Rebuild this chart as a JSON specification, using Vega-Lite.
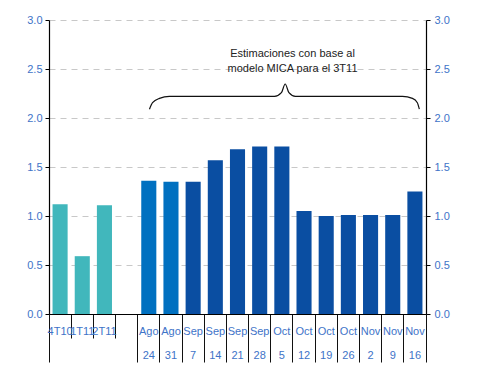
{
  "$schema": "https://vega.github.io/schema/vega-lite/v6.json",
  "width": 377,
  "height": 294,
  "autosize": {"type": "none"},
  "padding": {"left": 49, "top": 20, "right": 56, "bottom": 67},
  "background": "white",
  "config": {"view": {"stroke": null}, "font": "Liberation Sans"},
  "datasets": {
    "bars": [
      {"cat": "4T10", "value": 1.12, "grp": "q"},
      {"cat": "1T11", "value": 0.59, "grp": "q"},
      {"cat": "2T11", "value": 1.11, "grp": "q"},
      {"cat": "Ago|24", "value": 1.36, "grp": "w1"},
      {"cat": "Ago|31", "value": 1.35, "grp": "w1"},
      {"cat": "Sep|7", "value": 1.35, "grp": "w2"},
      {"cat": "Sep|14", "value": 1.57, "grp": "w2"},
      {"cat": "Sep|21", "value": 1.68, "grp": "w2"},
      {"cat": "Sep|28", "value": 1.71, "grp": "w2"},
      {"cat": "Oct|5", "value": 1.71, "grp": "w2"},
      {"cat": "Oct|12", "value": 1.05, "grp": "w2"},
      {"cat": "Oct|19", "value": 1.0, "grp": "w2"},
      {"cat": "Oct|26", "value": 1.01, "grp": "w2"},
      {"cat": "Nov|2", "value": 1.01, "grp": "w2"},
      {"cat": "Nov|9", "value": 1.01, "grp": "w2"},
      {"cat": "Nov|16", "value": 1.25, "grp": "w2"}
    ],
    "brace": [
      {"i": 1, "bx": 4.53, "by": 2.09},
      {"i": 2, "bx": 4.67, "by": 2.156},
      {"i": 3, "bx": 4.98, "by": 2.2},
      {"i": 4, "bx": 5.43, "by": 2.22},
      {"i": 5, "bx": 10.17, "by": 2.22},
      {"i": 6, "bx": 10.48, "by": 2.258},
      {"i": 7, "bx": 10.65, "by": 2.347},
      {"i": 8, "bx": 10.82, "by": 2.258},
      {"i": 9, "bx": 11.11, "by": 2.22},
      {"i": 10, "bx": 15.94, "by": 2.22},
      {"i": 11, "bx": 16.39, "by": 2.2},
      {"i": 12, "bx": 16.61, "by": 2.156},
      {"i": 13, "bx": 16.7, "by": 2.09}
    ],
    "note": [
      {"tx": 10.98, "ty": 2.653, "t": "Estimaciones con base al"},
      {"tx": 10.98, "ty": 2.5, "t": "modelo MICA para el 3T11"}
    ]
  },
  "layer": [
    {
      "data": {"name": "bars"},
      "mark": {"type": "bar", "width": {"band": 0.68}},
      "encoding": {
        "x": {
          "field": "cat",
          "type": "nominal",
          "sort": null,
          "scale": {
            "domain": ["4T10", "1T11", "2T11", " ", "Ago|24", "Ago|31", "Sep|7", "Sep|14", "Sep|21", "Sep|28", "Oct|5", "Oct|12", "Oct|19", "Oct|26", "Nov|2", "Nov|9", "Nov|16"],
            "paddingInner": 0,
            "paddingOuter": 0
          },
          "axis": {
            "title": null,
            "labelExpr": "isValid(datum.value) ? split(datum.value, '|') : ''",
            "labelAngle": 0,
            "labelColor": "#3e73c8",
            "labelFontSize": 11,
            "labelLineHeight": 24,
            "labelBaseline": "top",
            "labelOverlap": false,
            "labelBound": false,
            "labelFlush": false,
            "domainColor": "#000000",
            "domainWidth": 1,
            "tickColor": "#111111",
            "tickWidth": 1,
            "bandPosition": 1,
            "tickExtra": true,
            "tickSize": {"condition": {"test": "indexof(['4T10','1T11','2T11'], datum.value) >= 0", "value": 24}, "value": 48},
            "labelPadding": {"condition": {"test": "indexof(['4T10','1T11','2T11'], datum.value) >= 0", "value": -13}, "value": -37},
            "grid": false
          }
        },
        "y": {
          "field": "value",
          "type": "quantitative",
          "scale": {"domain": [0, 3], "nice": false},
          "axis": {
            "orient": "left",
            "title": null,
            "values": [0, 0.5, 1, 1.5, 2, 2.5, 3],
            "format": ".1f",
            "labelColor": "#3e73c8",
            "labelFontSize": 11,
            "labelPadding": 3,
            "domainColor": "#000000",
            "domainWidth": 1.2,
            "tickColor": "#000000",
            "tickSize": 4,
            "grid": true,
            "gridColor": "#c8c8c8",
            "gridDash": [6, 5],
            "gridWidth": 1
          }
        },
        "color": {
          "field": "grp",
          "type": "nominal",
          "scale": {"domain": ["q", "w1", "w2"], "range": ["#41b7bc", "#0070c0", "#0a4ea2"]},
          "legend": null
        }
      }
    },
    {
      "data": {"name": "brace"},
      "mark": {"type": "line", "interpolate": "monotone", "color": "#111111", "strokeWidth": 1.2},
      "encoding": {
        "x": {"field": "bx", "type": "quantitative", "scale": {"domain": [0, 17], "nice": false}, "axis": null},
        "y": {
          "field": "by",
          "type": "quantitative",
          "axis": {
            "orient": "right",
            "title": null,
            "values": [0, 0.5, 1, 1.5, 2, 2.5, 3],
            "format": ".1f",
            "labelColor": "#3e73c8",
            "labelFontSize": 11,
            "labelPadding": 4,
            "domainColor": "#000000",
            "domainWidth": 1.2,
            "tickColor": "#000000",
            "tickSize": 4,
            "grid": false
          }
        },
        "order": {"field": "i", "type": "quantitative"}
      }
    },
    {
      "data": {"name": "note"},
      "mark": {"type": "text", "fontSize": 11, "color": "#222222", "baseline": "middle", "align": "center"},
      "encoding": {
        "x": {"field": "tx", "type": "quantitative", "scale": {"domain": [0, 17], "nice": false}, "axis": null},
        "y": {"field": "ty", "type": "quantitative", "axis": null},
        "text": {"field": "t"}
      }
    }
  ],
  "resolve": {"scale": {"x": "independent"}, "axis": {"y": "independent"}}
}
